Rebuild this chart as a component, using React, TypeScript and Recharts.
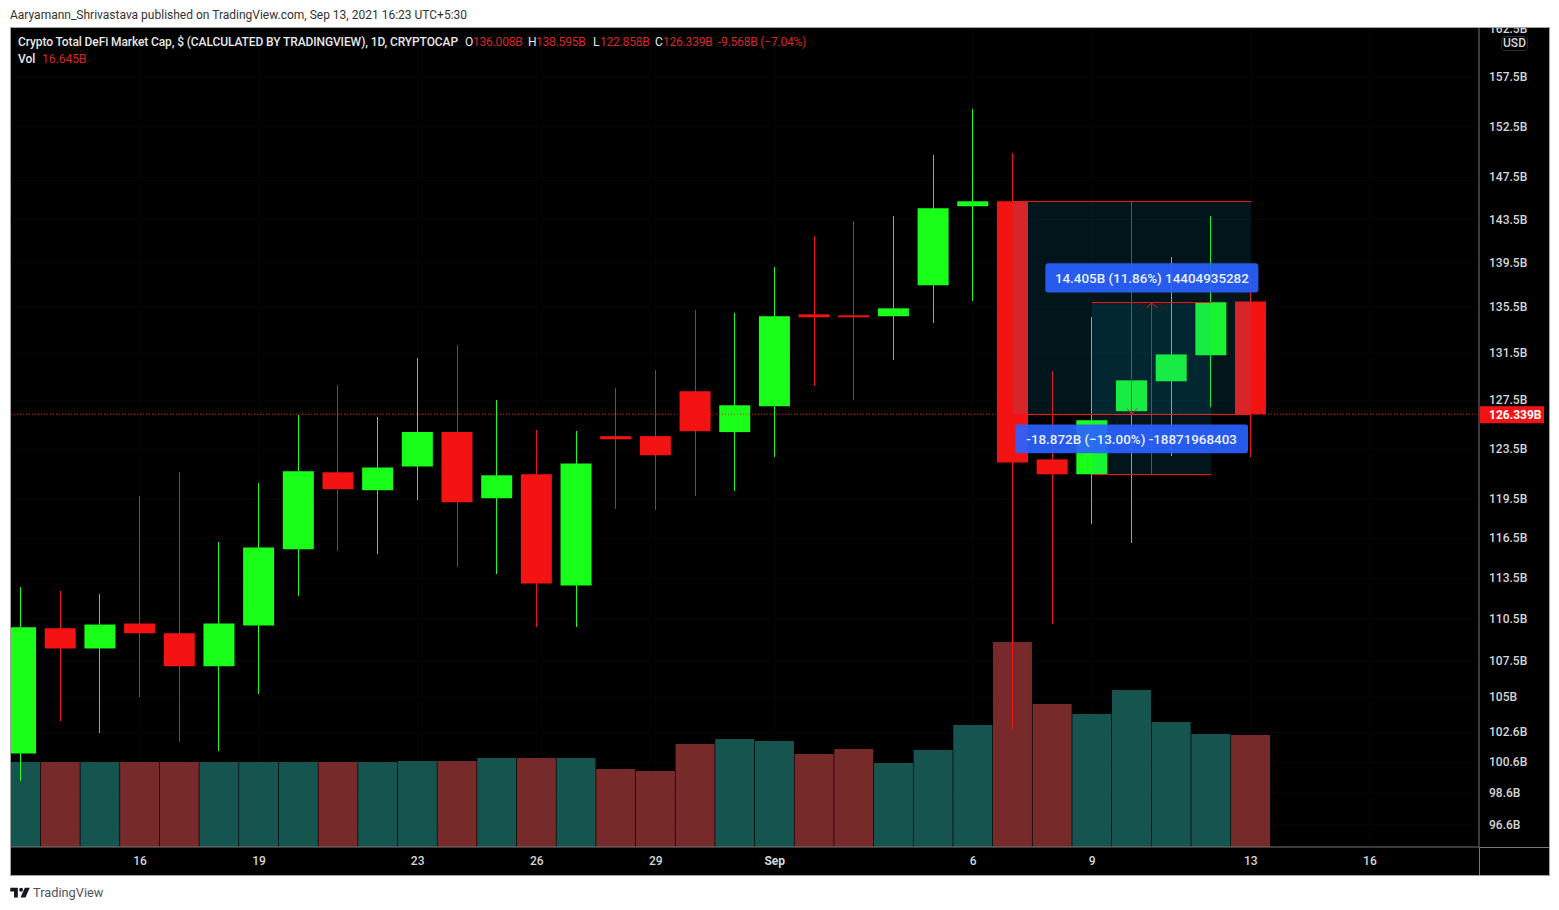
import React from 'react';
import { ComposedChart, Bar, Cell, XAxis, YAxis, CartesianGrid, ReferenceArea, ReferenceLine } from 'recharts';

const FONT = 'Roboto, sans-serif';
const UP = '#1aff1a';
const DOWN = '#f41313';
const VOL_UP = '#165450';
const VOL_DOWN = '#772a2a';

const opens = [101.19, 109.83, 108.39, 110.17, 109.47, 107.13, 110.03, 115.65, 121.63, 120.21, 122.09, 124.87, 119.58, 121.47, 112.95, 124.54, 124.54, 128.25, 124.87, 127.0, 134.87, 134.78, 134.7, 137.46, 144.75, 145.22, 122.66, 121.47, 126.59, 129.09, 131.3, 136.008];
const closes = [109.91, 108.39, 110.1, 109.47, 107.13, 110.17, 115.8, 121.71, 120.29, 122.01, 124.87, 119.26, 121.39, 113.1, 122.34, 124.29, 122.99, 124.93, 127.08, 134.7, 134.61, 134.61, 135.4, 144.56, 145.22, 122.42, 121.47, 125.84, 129.17, 131.38, 135.93, 126.339];
const highs = [112.82, 112.51, 112.29, 119.73, 121.63, 116.18, 120.75, 126.26, 128.75, 126.1, 131.04, 132.16, 127.49, 125.01, 124.93, 128.5, 130.01, 135.22, 134.96, 139.09, 141.93, 143.34, 143.8, 149.66, 154.24, 149.86, 129.93, 134.61, 145.13, 140.0, 143.8, 138.595];
const lows = [99.38, 103.35, 102.53, 105.03, 101.93, 101.39, 105.24, 112.14, 115.49, 115.27, 119.42, 114.29, 113.77, 109.91, 109.91, 118.72, 118.64, 119.73, 120.13, 122.83, 128.67, 127.49, 130.87, 134.09, 136.02, 102.86, 110.17, 117.57, 116.1, 122.9, 126.9, 122.858];
const volumes = [12.63, 12.63, 12.63, 12.63, 12.63, 12.63, 12.63, 12.63, 12.63, 12.63, 12.78, 12.78, 13.22, 13.22, 13.22, 11.59, 11.29, 15.3, 16.05, 15.75, 13.82, 14.56, 12.48, 14.41, 18.13, 30.46, 21.25, 19.76, 23.33, 18.57, 16.79, 16.645];
const volumeUp = [1, 0, 1, 0, 0, 1, 1, 1, 0, 1, 1, 0, 1, 0, 1, 0, 0, 0, 1, 1, 0, 0, 1, 1, 1, 0, 0, 1, 1, 1, 1, 0];

const priceTicks = [162.5, 157.5, 152.5, 147.5, 143.5, 139.5, 135.5, 131.5, 127.5, 123.5, 119.5, 116.5, 113.5, 110.5, 107.5, 105, 102.6, 100.6, 98.6, 96.6];
const dateTicks = [3, 6, 10, 13, 16, 19, 24, 27, 31, 34];
const dateLabels = ['16', '19', '23', '26', '29', 'Sep', '6', '9', '13', '16'];

const lastPrice = 126.339;
const shortTop = 145.211;
const longBottom = 121.47;
const longTop = 135.876;

const rows = opens.map((o, i) => ({
  i,
  body: [Math.min(o, closes[i]), Math.max(o, closes[i])],
  wick: [lows[i], highs[i]],
  volume: volumes[i],
}));

const X_DOMAIN: [number, number] = [-0.25, 36.75];
const LABEL_BLUE = 'rgba(41, 98, 255, 0.92)';
const BOX_FILL = 'rgba(16, 170, 211, 0.123)';
const OVERLAY_Z = 1000;

const PriceTick = ({ x, y, payload }: any) => (
  <text x={x + 2} y={y + 4} fontSize={12} fontWeight={500} fill="#d6d6d6" fontFamily={FONT}>
    {payload.value}B
  </text>
);

const DateTick = ({ x, y, payload }: any) => {
  const label = dateLabels[dateTicks.indexOf(payload.value)];
  return (
    <text x={x} y={y + 10} fontSize={12} fontWeight={label === 'Sep' ? 700 : 500} fill="#d6d6d6" textAnchor="middle" fontFamily={FONT}>
      {label}
    </text>
  );
};

const Segment = ({ from, to, crisp = true }: { from: number[]; to: number[]; crisp?: boolean }) => (
  <ReferenceLine
    xAxisId="x"
    yAxisId="price"
    segment={[{ x: from[0], y: from[1] }, { x: to[0], y: to[1] }]}
    stroke={DOWN}
    strokeWidth={1}
    shapeRendering={crisp ? 'crispEdges' : 'auto'}
    zIndex={OVERLAY_Z}
  />
);

const HeaderText = ({ left, color, spacing = -0.2, children }: { left: number; color: string; spacing?: number; children: React.ReactNode }) => (
  <span style={{ position: 'absolute', left, top: 35, color, whiteSpace: 'nowrap', letterSpacing: spacing }}>{children}</span>
);

export default function App() {
  return (
    <div style={{ position: 'absolute', left: 0, top: 0, width: 1559, height: 910, background: '#fff', overflow: 'hidden', fontFamily: FONT, fontSize: 12 }}>
      <div style={{ position: 'absolute', left: 10, top: 27, width: 1538, height: 847, background: '#000', border: '1px solid #a0a0a0' }} />
      <div style={{ position: 'absolute', left: 0, top: 0 }}>
        <ComposedChart width={1559} height={910} data={rows} margin={{ top: 28, right: 10, bottom: 35, left: 11 }}>
          <CartesianGrid xAxisId="x" yAxisId="price" stroke="#070707" horizontalValues={priceTicks} verticalValues={dateTicks} />
          <XAxis
            xAxisId="x"
            dataKey="i"
            type="number"
            domain={X_DOMAIN}
            allowDataOverflow
            ticks={dateTicks}
            interval={0}
            height={28}
            tick={<DateTick />}
            tickLine={false}
            axisLine={{ stroke: '#777' }}
          />
          <XAxis xAxisId="wick" dataKey="i" type="number" domain={X_DOMAIN} allowDataOverflow hide orientation="top" height={0} />
          <XAxis xAxisId="body" dataKey="i" type="number" domain={X_DOMAIN} allowDataOverflow hide orientation="top" height={0} />
          <YAxis
            yAxisId="price"
            orientation="right"
            scale="log"
            domain={[95.19, 162.65]}
            allowDataOverflow
            ticks={priceTicks}
            interval={0}
            width={70}
            tick={<PriceTick />}
            tickLine={false}
            axisLine={{ stroke: '#777' }}
          />
          <YAxis yAxisId="volume" domain={[0, 121.7]} hide />

          <Bar xAxisId="x" yAxisId="volume" dataKey="volume" barSize={39} isAnimationActive={false}>
            {rows.map((r) => (
              <Cell key={r.i} fill={volumeUp[r.i] ? VOL_UP : VOL_DOWN} />
            ))}
          </Bar>
          <Bar xAxisId="wick" yAxisId="price" dataKey="wick" barSize={1} shapeRendering="crispEdges" isAnimationActive={false}>
            {rows.map((r) => (
              <Cell key={r.i} fill={closes[r.i] >= opens[r.i] ? UP : DOWN} />
            ))}
          </Bar>
          <Bar xAxisId="body" yAxisId="price" dataKey="body" barSize={31} isAnimationActive={false}>
            {rows.map((r) => (
              <Cell key={r.i} fill={closes[r.i] >= opens[r.i] ? UP : DOWN} />
            ))}
          </Bar>

          <ReferenceLine xAxisId="x" yAxisId="price" y={lastPrice} stroke={DOWN} strokeDasharray="1 2" zIndex={OVERLAY_Z} />

          {/* short measure box */}
          <ReferenceArea xAxisId="x" yAxisId="price" x1={25} x2={31} y1={lastPrice} y2={shortTop} fill={BOX_FILL} fillOpacity={1} zIndex={OVERLAY_Z} />
          {Segment({ from: [25, shortTop], to: [31, shortTop] })}
          {Segment({ from: [25, lastPrice], to: [31, lastPrice] })}
          {Segment({ from: [28, shortTop], to: [28, lastPrice] })}
          {Segment({ from: [27.87, 126.83], to: [28, lastPrice], crisp: false })}
          {Segment({ from: [28.13, 126.83], to: [28, lastPrice], crisp: false })}

          {/* long measure box */}
          <ReferenceArea xAxisId="x" yAxisId="price" x1={27} x2={30} y1={longBottom} y2={longTop} fill={BOX_FILL} fillOpacity={1} zIndex={OVERLAY_Z} />
          {Segment({ from: [27, longTop], to: [30, longTop] })}
          {Segment({ from: [27, longBottom], to: [30, longBottom] })}
          {Segment({ from: [28.5, longBottom], to: [28.5, longTop] })}
          {Segment({ from: [28.37, 135.45], to: [28.5, longTop], crisp: false })}
          {Segment({ from: [28.63, 135.45], to: [28.5, longTop], crisp: false })}

          <ReferenceArea
            xAxisId="x"
            yAxisId="price"
            x1={25.82}
            x2={31.19}
            y1={136.82}
            y2={139.46}
            fill={LABEL_BLUE}
            fillOpacity={1}
            radius={3}
            zIndex={OVERLAY_Z + 1}
            label={{ value: '14.405B (11.86%) 14404935282', fill: '#eaf0ff', fontSize: 13.4, fontWeight: 500, fontFamily: FONT, position: 'center' }}
          />
          <ReferenceArea
            xAxisId="x"
            yAxisId="price"
            x1={25.06}
            x2={30.93}
            y1={123.15}
            y2={125.5}
            fill={LABEL_BLUE}
            fillOpacity={1}
            radius={3}
            zIndex={OVERLAY_Z + 1}
            label={{ value: '-18.872B (\u221213.00%) -18871968403', fill: '#eaf0ff', fontSize: 13.4, fontWeight: 500, fontFamily: FONT, position: 'center' }}
          />
          <ReferenceLine
            xAxisId="x"
            yAxisId="price"
            y={lastPrice}
            stroke="none"
            zIndex={OVERLAY_Z}
            label={(props: any) => (
              <g>
                <rect x={1480} y={props.viewBox.y - 8} width={64} height={17} fill={DOWN} />
                <text x={1489} y={props.viewBox.y + 5} fontSize={12} fontWeight={700} fill="#fff" fontFamily={FONT}>
                  {lastPrice}B
                </text>
              </g>
            )}
          />
        </ComposedChart>
      </div>

      {/* axis rules carry on across the corner of the panel */}
      <div style={{ position: 'absolute', left: 1479, top: 847, width: 1, height: 28, background: '#777' }} />
      <div style={{ position: 'absolute', left: 1479, top: 847, width: 70, height: 1, background: '#777' }} />

      {/* cuts the top tick at the edge of the panel */}
      <div style={{ position: 'absolute', left: 0, top: 0, width: 1559, height: 27, background: '#fff' }} />
      <div style={{ position: 'absolute', left: 10, top: 27, width: 1540, height: 1, background: '#a0a0a0' }} />
      <div style={{ position: 'absolute', left: 10, top: 8, color: '#333', whiteSpace: 'nowrap' }}>
        Aaryamann_Shrivastava published on TradingView.com, Sep 13, 2021 16:23 UTC+5:30
      </div>

      <HeaderText left={18} color="#e8e8e8" spacing={-0.105}>
        <b style={{ fontWeight: 500 }}>Crypto Total DeFi Market Cap, $ (CALCULATED BY TRADINGVIEW), 1D, CRYPTOCAP</b>
      </HeaderText>
      <HeaderText left={465} color="#e8e8e8">O</HeaderText>
      <HeaderText left={473} color="#d82626">136.008B</HeaderText>
      <HeaderText left={528} color="#e8e8e8">H</HeaderText>
      <HeaderText left={536} color="#d82626">138.595B</HeaderText>
      <HeaderText left={593} color="#e8e8e8">L</HeaderText>
      <HeaderText left={600} color="#d82626">122.858B</HeaderText>
      <HeaderText left={655} color="#e8e8e8">C</HeaderText>
      <HeaderText left={663} color="#d82626">126.339B</HeaderText>
      <HeaderText left={718} color="#d82626">-9.568B (−7.04%)</HeaderText>
      <span style={{ position: 'absolute', left: 18, top: 52, color: '#e8e8e8', fontWeight: 500 }}>Vol</span>
      <span style={{ position: 'absolute', left: 42, top: 52, color: '#d82626' }}>16.645B</span>

      <div style={{ position: 'absolute', left: 1501, top: 36, width: 25, height: 13, border: '1px solid #2a2e39', borderRadius: 4, color: '#d6d6d6', textAlign: 'center', lineHeight: '13px', fontWeight: 500 }}>
        USD
      </div>

      <svg style={{ position: 'absolute', left: 10, top: 886 }} width={20} height={13} viewBox="0 0 36 24">
        <path d="M0 3h14v18H7V10H0z M27 3h9l-8 18h-9z" fill="#131722" />
        <circle cx="20" cy="7" r="3.6" fill="#131722" />
      </svg>
      <div style={{ position: 'absolute', left: 33, top: 885, color: '#50535e', fontSize: 12.8 }}>TradingView</div>
    </div>
  );
}
